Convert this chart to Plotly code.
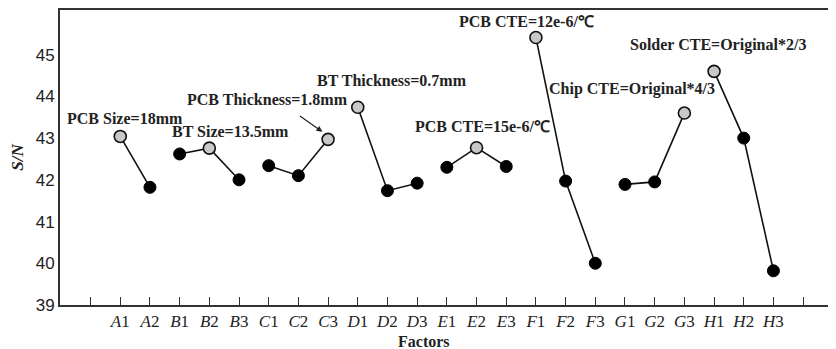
import plotly.graph_objects as go

factors = ["A", "B", "C", "D", "E", "F", "G", "H"]
sn_values = {
    "A": [43.04, 41.82],
    "B": [42.62, 42.76, 42.00],
    "C": [42.34, 42.10, 42.97],
    "D": [43.74, 41.74, 41.92],
    "E": [42.30, 42.77, 42.32],
    "F": [45.41, 41.97, 40.00],
    "G": [41.89, 41.95, 43.60],
    "H": [44.60, 43.00, 39.82],
}
best_level = {"A": 0, "B": 1, "C": 2, "D": 0, "E": 1, "F": 0, "G": 2, "H": 0}
labels_text = [
    ("PCB Size=18mm", 1.16, 43.48),
    ("BT Size=13.5mm", 4.71, 43.15),
    ("PCB Thickness=1.8mm", 5.96, 43.92),
    ("BT Thickness=0.7mm", 10.15, 44.37),
    ("PCB CTE=15e-6/\u2103", 13.19, 43.27),
    ("PCB CTE=12e-6/\u2103", 14.67, 45.79),
    ("Chip CTE=Original*4/3", 18.25, 44.18),
    ("Solder CTE=Original*2/3", 21.12, 45.23),
]

tick_vals = []
tick_text = []
line_x, line_y = [], []
best_x, best_y, other_x, other_y = [], [], [], []
pos = 1
for f in factors:
    for i, v in enumerate(sn_values[f]):
        tick_vals.append(pos)
        tick_text.append(f"<i>{f}</i>{i+1}")
        line_x.append(pos)
        line_y.append(v)
        if i == best_level[f]:
            best_x.append(pos); best_y.append(v)
        else:
            other_x.append(pos); other_y.append(v)
        pos += 1
    line_x.append(None)
    line_y.append(None)

fig = go.Figure()
fig.add_trace(go.Scatter(x=line_x, y=line_y, mode="lines",
                         line=dict(color="#111", width=1.6), hoverinfo="skip"))
fig.add_trace(go.Scatter(x=other_x, y=other_y, mode="markers",
                         marker=dict(size=12, color="#000", line=dict(color="#000", width=1))))
fig.add_trace(go.Scatter(x=best_x, y=best_y, mode="markers",
                         marker=dict(size=12, color="#c8c8c8", line=dict(color="#111", width=1.6))))

serif = "Liberation Serif, Times New Roman, serif"
for txt, x, y in labels_text:
    fig.add_annotation(x=x, y=y, text=f"<b>{txt}</b>", showarrow=False,
                       font=dict(family=serif, size=16, color="#222"))

fig.add_annotation(x=7.81, y=43.15, ax=-24, ay=-17, text="", showarrow=True,
                   arrowhead=2, arrowsize=1, arrowwidth=1.2, arrowcolor="#222")

fig.add_annotation(x=0.47, xref="paper", y=-0.123, yref="paper", yanchor="middle",
                   text="<b>Factors</b>", showarrow=False,
                   font=dict(family=serif, size=16, color="#222"))

fig.update_layout(
    width=828, height=341,
    margin=dict(l=52, r=2, t=2, b=44),
    plot_bgcolor="white", paper_bgcolor="white",
    showlegend=False,
    xaxis=dict(range=[-1.03, 25.04], tickmode="array",
               tickvals=[0] + tick_vals + [24], ticktext=[""] + tick_text + [""],
               ticks="inside", ticklen=8, tickwidth=1.2, tickcolor="#333",
               showgrid=False, zeroline=False, showline=True, linecolor="#333",
               linewidth=2, mirror=True, automargin=False,
               tickfont=dict(family=serif, size=17, color="#222")),
    yaxis=dict(range=[39, 46.07], tickmode="array", tickvals=list(range(39, 47)),
               ticks="", showgrid=False, zeroline=False, showline=True,
               linecolor="#333", linewidth=2, mirror=True, automargin=False,
               tickfont=dict(family="Liberation Sans, Arial, sans-serif", size=17, color="#222"),
               title=dict(text="<i><b>S/N</b></i>", standoff=10,
                          font=dict(family=serif, size=17, color="#222"))),
)

fig.write_html("out.html")
